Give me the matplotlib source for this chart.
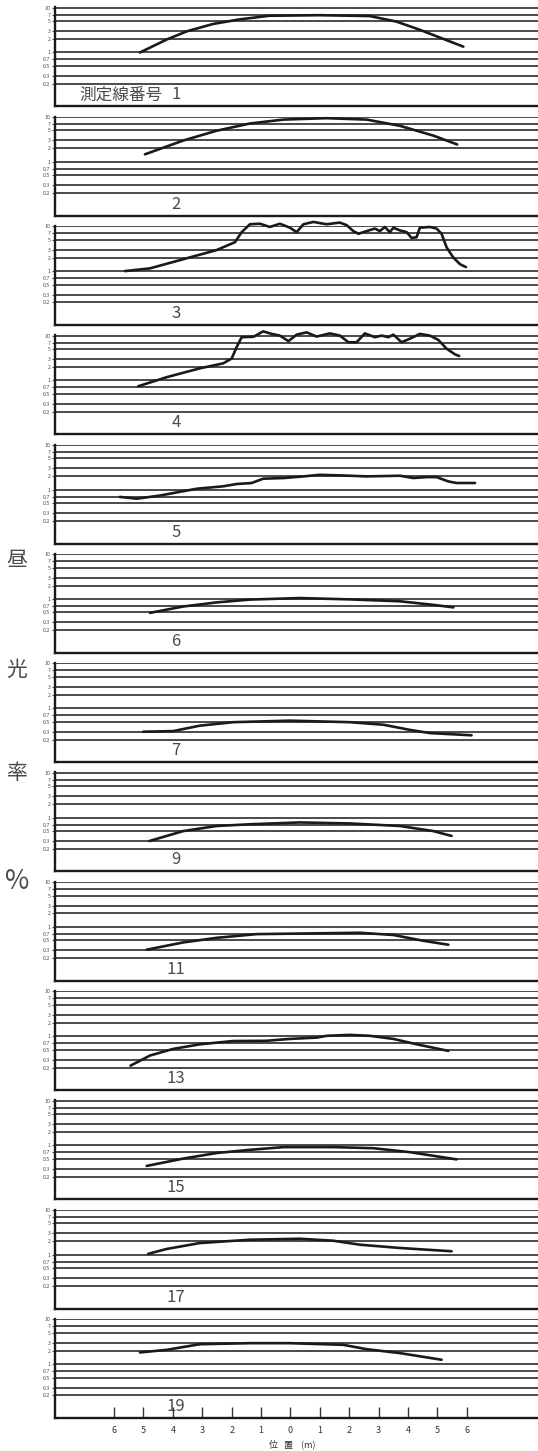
import matplotlib
matplotlib.use("Agg")
import matplotlib.pyplot as plt
from matplotlib.ticker import FixedLocator, NullLocator, FixedFormatter
import matplotlib.transforms as mtransforms

plt.rcParams['font.family'] = ['Noto Sans CJK JP', 'DejaVu Sans']

# ---------------- data ----------------
panel_ids = ["1", "2", "3", "4", "5", "6", "7", "9", "11", "13", "15", "17", "19"]
first_label_prefix = "測定線番号"

ytick_values = [10, 7, 5, 3, 2, 1, 0.7, 0.5, 0.3, 0.2]
ytick_labels = ["10", "7", "5", "3", "2", "1", "0.7", "0.5", "0.3", "0.2"]

xtick_values = [-6, -5, -4, -3, -2, -1, 0, 1, 2, 3, 4, 5, 6]
xtick_labels = ["6", "5", "4", "3", "2", "1", "0", "1", "2", "3", "4", "5", "6"]

x1 = [-5.12, -4.21, -3.53, -2.63, -1.72, -0.81, -0.70, 1.00, 2.70, 3.61, 4.40, 5.20, 5.88]
y1 = [1.00, 1.95, 2.96, 4.34, 5.49, 6.50, 6.60, 6.80, 6.50, 4.88, 3.21, 2.01, 1.35]

x2 = [-4.95, -3.65, -2.51, -1.38, -0.24, 1.23, 2.59, 3.72, 4.86, 5.67]
y2 = [1.47, 2.98, 4.94, 7.15, 8.75, 9.40, 8.75, 6.36, 3.84, 2.44]

x3 = [-5.63, -4.78, -3.65, -2.51, -1.89, -1.66, -1.38, -1.04, -0.70, -0.36, -0.02, 0.21,
      0.44, 0.78, 1.23, 1.68, 1.91, 2.14, 2.31, 2.59, 2.87, 3.04, 3.21, 3.38, 3.50, 3.72,
      3.95, 4.12, 4.29, 4.40, 4.74, 4.97, 5.14, 5.31, 5.54, 5.77, 5.97]
y3 = [1.00, 1.15, 1.84, 2.95, 4.41, 7.40, 11.1, 11.4, 9.66, 11.4, 9.30, 7.40,
      11.1, 12.5, 11.1, 12.1, 10.6, 7.80, 6.80, 7.80, 8.90, 7.80, 9.66, 7.40, 9.30, 8.10,
      7.40, 5.50, 5.70, 9.30, 9.66, 8.90, 6.80, 3.40, 2.00, 1.42, 1.23]

x4 = [-5.18, -4.21, -3.08, -2.29, -2.00, -1.83, -1.66, -1.26, -0.93, -0.64, -0.36, -0.07,
      0.21, 0.55, 0.89, 1.34, 1.68, 1.97, 2.25, 2.53, 2.87, 3.10, 3.33, 3.50, 3.78, 4.06,
      4.40, 4.74, 5.03, 5.31, 5.60, 5.74]
y4 = [0.74, 1.18, 1.86, 2.40, 3.08, 5.56, 9.20, 9.40, 12.4, 10.9, 10.0, 7.50,
      10.5, 11.8, 9.50, 11.2, 10.0, 7.10, 7.10, 11.2, 9.20, 10.0, 9.20, 10.5, 7.10, 8.50,
      10.9, 10.0, 8.00, 5.10, 3.80, 3.50]

x5 = [-5.80, -5.23, -4.44, -3.87, -3.19, -2.29, -1.83, -1.32, -0.93, -0.24, 0.44, 1.00,
      2.02, 2.59, 3.72, 4.18, 4.63, 4.97, 5.37, 5.65, 6.28]
y5 = [0.69, 0.63, 0.74, 0.87, 1.05, 1.19, 1.34, 1.41, 1.76, 1.82, 1.98, 2.15,
      2.05, 1.98, 2.05, 1.82, 1.91, 1.91, 1.53, 1.41, 1.41]

x6 = [-4.78, -3.65, -2.51, -1.38, 0.32, 2.02, 3.72, 4.86, 5.54]
y6 = [0.49, 0.68, 0.84, 0.97, 1.05, 0.98, 0.89, 0.74, 0.65]

x7 = [-5.01, -3.99, -3.08, -1.95, -0.02, 2.02, 3.16, 4.06, 4.74, 6.16]
y7 = [0.30, 0.31, 0.41, 0.49, 0.53, 0.49, 0.43, 0.33, 0.28, 0.25]

x9 = [-4.80, -3.65, -2.51, -1.38, 0.32, 2.02, 3.72, 4.86, 5.48]
y9 = [0.30, 0.50, 0.65, 0.71, 0.78, 0.74, 0.65, 0.50, 0.39]

x11 = [-4.89, -3.65, -2.51, -1.15, 0.32, 2.36, 3.50, 4.52, 5.37]
y11 = [0.31, 0.45, 0.57, 0.69, 0.71, 0.74, 0.66, 0.49, 0.40]

x13 = [-5.44, -4.78, -3.99, -3.08, -1.95, -0.81, -0.02, 0.89, 1.23, 2.02, 2.70, 3.50, 4.29, 5.37]
y13 = [0.22, 0.37, 0.52, 0.66, 0.78, 0.79, 0.87, 0.93, 1.02, 1.07, 1.02, 0.87, 0.66, 0.47]

x15 = [-4.89, -3.65, -2.51, -1.38, -0.24, 1.46, 2.82, 4.06, 5.65]
y15 = [0.35, 0.51, 0.68, 0.80, 0.92, 0.92, 0.87, 0.71, 0.49]

x17 = [-4.84, -4.21, -3.08, -1.38, 0.32, 1.46, 2.36, 3.72, 5.48]
y17 = [1.05, 1.35, 1.83, 2.17, 2.28, 2.06, 1.68, 1.42, 1.20]

x19 = [-5.12, -4.21, -3.08, -1.38, -0.02, 1.80, 2.59, 3.72, 5.14]
y19 = [1.82, 2.08, 2.78, 2.93, 2.93, 2.69, 2.15, 1.76, 1.25]

series_x = [x1, x2, x3, x4, x5, x6, x7, x9, x11, x13, x15, x17, x19]
series_y = [y1, y2, y3, y4, y5, y6, y7, y9, y11, y13, y15, y17, y19]

side_chars = ["昼", "光", "率", "%"]
xlabel_text = "位   置    (m)"

# ---------------- layout ----------------
W, H = 538, 1451
fig = plt.figure(figsize=(W / 100, H / 100), dpi=100)
fig.patch.set_facecolor("white")

left_px = 55
top0 = 7.3
stride = 109.3
panel_h = 99.0

ink = "#1a1a1a"
grid_col = "#3c3c3c"
text_col = "#4a4a4a"

for i, (pid, xs, ys) in enumerate(zip(panel_ids, series_x, series_y)):
    top = top0 + stride * i
    ax = fig.add_axes([left_px / W, 1 - (top + panel_h) / H, (W - left_px) / W, panel_h / H])
    ax.set_yscale("log")
    ax.set_xlim(-8.01, 8.42)
    ax.set_ylim(0.063, 10.2)
    ax.yaxis.set_major_locator(FixedLocator(ytick_values))
    ax.yaxis.set_major_formatter(FixedFormatter(ytick_labels))
    ax.yaxis.set_minor_locator(NullLocator())
    ax.tick_params(axis="y", which="major", labelsize=3.8, length=2.5, width=0.8,
                   pad=0.8, colors=text_col, direction="out")
    ax.yaxis.grid(True, color=grid_col, linewidth=1.3)
    ax.set_axisbelow(True)

    for s in ("top", "right"):
        ax.spines[s].set_visible(False)
    for s in ("left", "bottom"):
        ax.spines[s].set_linewidth(1.7)
        ax.spines[s].set_color(ink)

    if i == len(panel_ids) - 1:
        ax.set_xticks(xtick_values)
        ax.set_xticklabels(xtick_labels)
        ax.tick_params(axis="x", direction="in", length=8, width=1.0, labelsize=6.5,
                       colors="#333333", pad=6)
    else:
        ax.set_xticks([])

    ax.plot(xs, ys, color=ink, linewidth=1.9, clip_on=False,
            solid_capstyle="round", solid_joinstyle="round", zorder=5)

    trans = mtransforms.blended_transform_factory(ax.transData, ax.transAxes)
    ax.text(-3.9, 0.03, pid, transform=trans, ha="center", va="bottom",
            fontsize=12, color=text_col)
    if i == 0:
        ax.text(-4.35, 0.03, first_label_prefix, transform=trans, ha="right",
                va="bottom", fontsize=12, color=text_col)

# side label characters
side_y = [560, 670, 773, 882]
for ch, yy in zip(side_chars, side_y):
    fs = 19 if ch == "%" else 15
    fig.text(17 / W, 1 - yy / H, ch, ha="center", va="center", fontsize=fs,
             color=text_col, style="italic" if ch == "%" else "normal")

fig.text(292 / W, 1 - 1444 / H, xlabel_text, ha="center", va="center",
         fontsize=6.5, color="#333333")

fig.savefig("out.png", dpi=100, facecolor="white")
